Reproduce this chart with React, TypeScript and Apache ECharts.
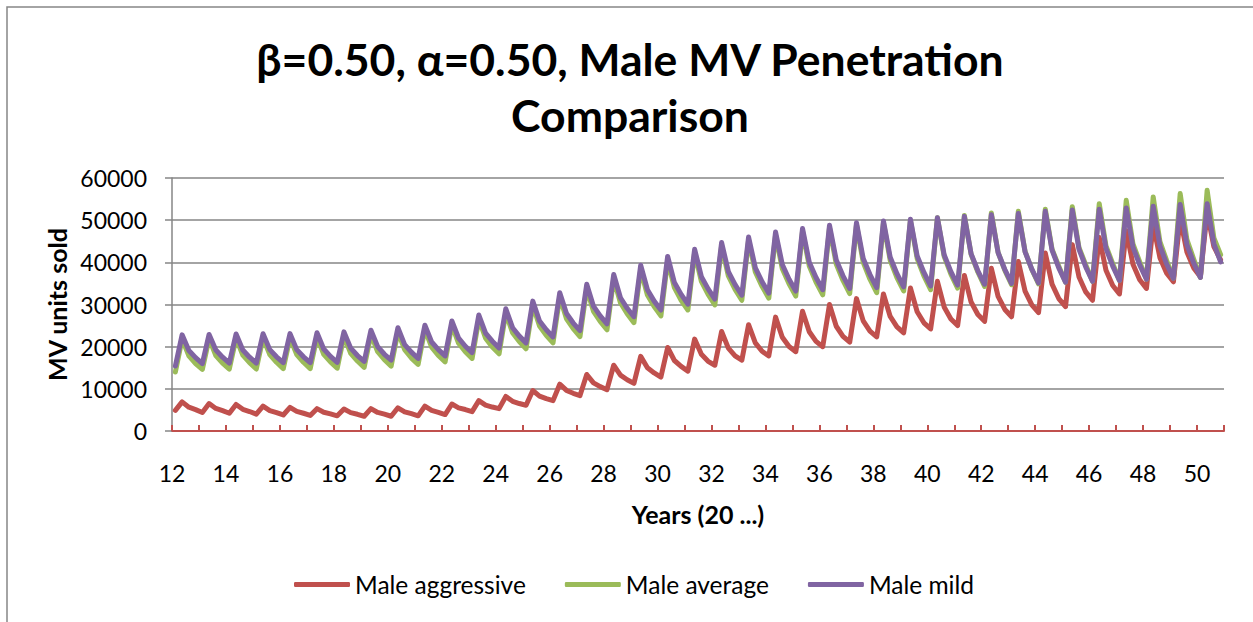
import React, { useEffect, useRef } from "react";
import * as echarts from "echarts";

// Years shown on the horizontal axis (20xx), one block of four quarters per year
const years = [
  12, 13, 14, 15, 16, 17, 18, 19, 20, 21, 22, 23, 24, 25, 26, 27, 28, 29, 30, 31,
  32, 33, 34, 35, 36, 37, 38, 39, 40, 41, 42, 43, 44, 45, 46, 47, 48, 49, 50,
];
// Mid-point of each quarter as a fraction of the year
const quarterMid = [0.125, 0.375, 0.625, 0.875];

// Quarterly MV units sold, Q1..Q4 for each year in `years`
const maleAggressive = [
  4900, 6900, 5650, 5080,
  4400, 6500, 5350, 4820,
  4200, 6300, 5150, 4620,
  4000, 5900, 4850, 4370,
  3800, 5600, 4650, 4210,
  3700, 5300, 4450, 4060,
  3600, 5200, 4350, 3960,
  3500, 5300, 4400, 3990,
  3500, 5500, 4550, 4110,
  3600, 5900, 4900, 4440,
  3900, 6400, 5500, 5090,
  4600, 7200, 6150, 5680,
  5300, 8200, 7050, 6520,
  6100, 9600, 8280, 7680,
  7200, 11100, 9620, 8940,
  8400, 13400, 11420, 10520,
  9800, 15600, 13240, 12160,
  11300, 17700, 15000, 13780,
  12800, 19800, 16720, 15320,
  14200, 21800, 18200, 16530,
  15600, 23600, 19660, 17820,
  16800, 25200, 20910, 18910,
  17800, 27000, 22240, 20030,
  18800, 28400, 23530, 21260,
  20000, 30000, 24840, 22440,
  21100, 31400, 26120, 23670,
  22300, 32500, 27160, 24680,
  23300, 33900, 28270, 25660,
  24200, 35500, 29410, 26580,
  25000, 36900, 30580, 27640,
  26000, 38600, 31930, 28830,
  27100, 40200, 33180, 29920,
  28100, 42200, 34830, 31410,
  29500, 44200, 36540, 32980,
  31000, 45900, 38130, 34510,
  32500, 47500, 39550, 35860,
  33800, 49000, 41110, 37440,
  35400, 50500, 42440, 38690,
  36600, 51900, 43720, 40600,
];

const maleAverage = [
  14000, 21800, 17800, 16000,
  14600, 21900, 17900, 16100,
  14700, 22000, 18000, 16200,
  14700, 22050, 18100, 16300,
  14800, 22100, 18100, 16300,
  14800, 22300, 18200, 16400,
  14900, 22500, 18400, 16600,
  15100, 22900, 18800, 16900,
  15400, 23500, 19300, 17300,
  15800, 24100, 19900, 17900,
  16400, 25100, 20800, 18800,
  17200, 26500, 22000, 19900,
  18300, 28000, 23300, 21200,
  19500, 29800, 24900, 22700,
  20900, 31800, 26600, 24300,
  22400, 33800, 28400, 26000,
  24000, 36100, 30400, 27800,
  25700, 38300, 32250, 29500,
  27300, 40400, 34000, 31000,
  28700, 42300, 35500, 32400,
  29900, 43900, 36800, 33600,
  31000, 45300, 37700, 34300,
  31500, 46500, 38500, 34900,
  32000, 47400, 39100, 35300,
  32300, 48200, 39600, 35700,
  32600, 48900, 40000, 36000,
  32800, 49400, 40500, 36400,
  33200, 50000, 40900, 36800,
  33500, 50600, 41400, 37200,
  33900, 51100, 41900, 37700,
  34300, 51700, 42350, 38100,
  34700, 52100, 42600, 38300,
  34900, 52600, 43100, 39100,
  35300, 53200, 43500, 39400,
  35500, 53900, 43900, 39700,
  35700, 54700, 44400, 40100,
  36000, 55500, 44900, 40400,
  36200, 56300, 45400, 40800,
  36400, 57100, 45800, 41800,
];

const maleMild = [
  15400, 22800, 19100, 17400,
  16000, 22900, 19200, 17500,
  16100, 23000, 19200, 17500,
  16100, 23050, 19300, 17600,
  16200, 23100, 19300, 17600,
  16200, 23300, 19450, 17700,
  16300, 23500, 19650, 17900,
  16500, 23900, 20000, 18200,
  16800, 24500, 20500, 18700,
  17200, 25100, 21100, 19300,
  17800, 26100, 22000, 20100,
  18600, 27500, 23200, 21300,
  19700, 29000, 24500, 22500,
  20900, 30800, 26100, 24000,
  22300, 32800, 27850, 25600,
  23800, 34800, 29600, 27300,
  25400, 37100, 31600, 29100,
  27100, 39300, 33500, 30800,
  28700, 41400, 35200, 32400,
  30100, 43100, 36600, 33700,
  31300, 44700, 37800, 34700,
  32200, 46000, 38700, 35400,
  32700, 47200, 39500, 36000,
  33200, 48000, 40000, 36400,
  33500, 48800, 40550, 36800,
  33800, 49400, 40900, 37100,
  34000, 49800, 41200, 37300,
  34200, 50200, 41500, 37600,
  34400, 50600, 41800, 37800,
  34600, 50900, 42000, 38000,
  34800, 51300, 42300, 38300,
  35000, 51600, 42500, 38400,
  35100, 52100, 42900, 38700,
  35300, 52400, 43100, 38900,
  35500, 52600, 43300, 39100,
  35700, 52900, 43600, 39400,
  36000, 53300, 43900, 39600,
  36200, 53700, 44200, 39900,
  36400, 53900, 44400, 40100,
];

const seriesNames = ["Male aggressive", "Male average", "Male mild"];
const seriesColors = ["#C0504D", "#9BBB59", "#8064A2"];

const FONT = "Lato, 'Open Sans', sans-serif";

// Decimal year at the middle of every quarter
const quarterTimes = years.flatMap((y) => quarterMid.map((q) => y + q));

function toPoints(values: number[]) {
  return quarterTimes.map((t, i) => [t, values[i]]);
}

export default function App() {
  const ref = useRef<HTMLDivElement>(null);

  useEffect(() => {
    if (!ref.current) return;
    const chart = echarts.init(ref.current, undefined, { renderer: "svg" });
    const allValues = [maleAggressive, maleAverage, maleMild];

    chart.setOption({
      animation: false,
      backgroundColor: "#ffffff",
      textStyle: { fontFamily: FONT },
      graphic: [
        {
          type: "rect",
          shape: { x: 7, y: 7, width: 1300, height: 700 },
          style: { fill: "none", stroke: "#868686", lineWidth: 1.5 },
          silent: true,
        },
        {
          type: "text",
          x: 630,
          y: 30,
          style: {
            text: "\u03b2=0.50, \u03b1=0.50, Male MV Penetration\nComparison",
            textAlign: "center",
            textVerticalAlign: "top",
            fontFamily: FONT,
            fontWeight: "bold",
            fontSize: 44.5,
            lineHeight: 56,
            fill: "#000000",
          },
        },
      ],
      legend: {
        left: 294,
        top: 572,
        icon: "roundRect",
        itemWidth: 56,
        itemHeight: 5,
        itemGap: 39,
        padding: 0,
        textStyle: { fontFamily: FONT, fontSize: 24.5, color: "#000000" },
        data: seriesNames,
      },
      grid: { left: 172, right: 29, top: 178, bottom: 191, containLabel: false },
      xAxis: {
        type: "value",
        min: 12,
        max: 51,
        interval: 1,
        name: "Years (20 ...)",
        nameLocation: "middle",
        nameGap: 70,
        nameTextStyle: { fontFamily: FONT, fontWeight: "bold", fontSize: 25, color: "#000000" },
        axisLine: { show: true, lineStyle: { color: "#C0504D", width: 2 } },
        axisTick: { show: true, inside: true, length: 6, lineStyle: { color: "#C0504D", width: 2 } },
        splitLine: { show: false },
        axisLabel: {
          margin: 30,
          fontFamily: FONT,
          fontSize: 23,
          color: "#000000",
          formatter: (v: number) => (v % 2 === 0 && v <= 50 ? String(v) : ""),
        },
      },
      yAxis: {
        type: "value",
        min: 0,
        max: 60000,
        interval: 10000,
        name: "MV units sold",
        nameLocation: "middle",
        nameRotate: 90,
        nameGap: 101,
        nameTextStyle: { fontFamily: FONT, fontWeight: "bold", fontSize: 25, color: "#000000" },
        axisLine: { show: true, lineStyle: { color: "#868686", width: 1.5 } },
        axisTick: { show: true, length: 7, lineStyle: { color: "#868686", width: 1.5 } },
        splitLine: { show: true, lineStyle: { color: "#868686", width: 1.5 } },
        axisLabel: {
          margin: 25,
          fontFamily: FONT,
          fontSize: 23,
          color: "#000000",
          formatter: (v: number) => String(v),
        },
      },
      series: seriesNames.map((name, k) => ({
        name,
        type: "line",
        data: toPoints(allValues[k]),
        showSymbol: false,
        symbol: "none",
        color: seriesColors[k],
        lineStyle: { width: 5, color: seriesColors[k], join: "round", cap: "round" },
        z: 2 + k,
      })),
    });

    return () => chart.dispose();
  }, []);

  return (
    <div
      ref={ref}
      style={{ position: "absolute", left: 0, top: 0, width: 1253, height: 622 }}
    />
  );
}
